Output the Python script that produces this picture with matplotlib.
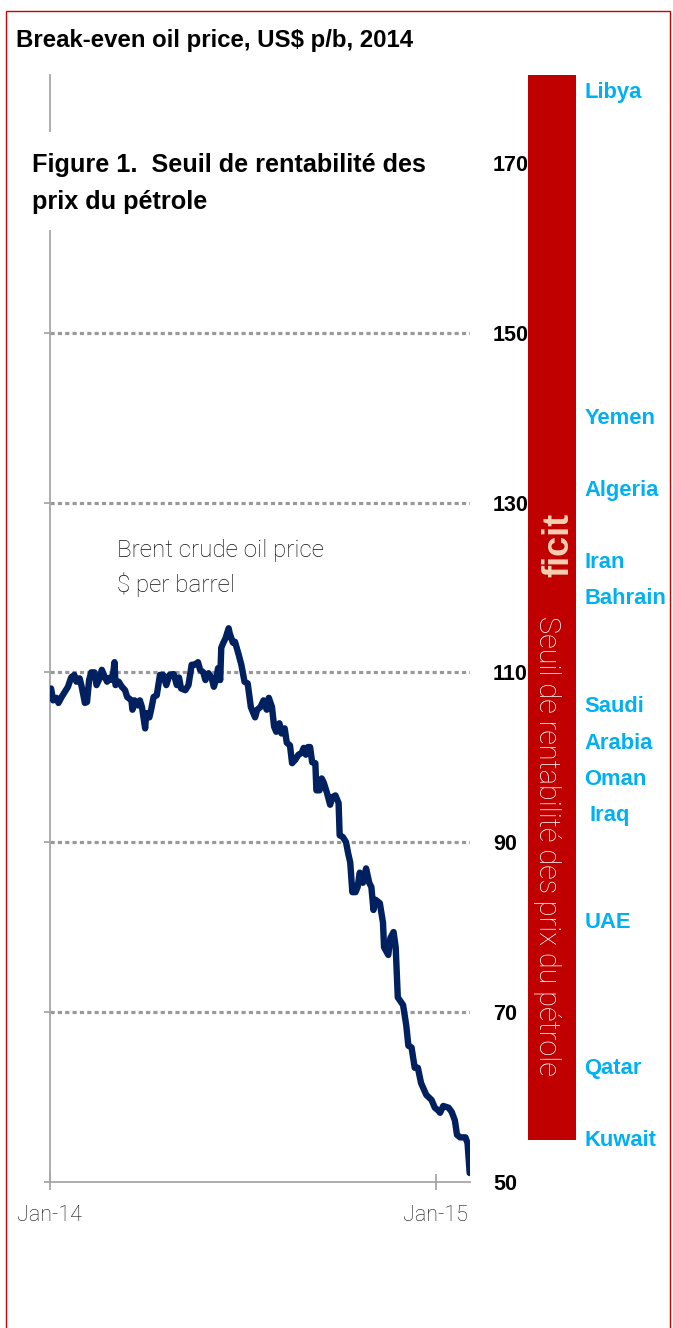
import matplotlib
matplotlib.use("Agg")
import matplotlib.pyplot as plt
from matplotlib.patches import Rectangle
import pandas as pd

BOLD = "Liberation Sans"
LIGHT = "Roboto"

# ---------------- data ----------------
days = [1, 3, 6, 8, 11, 14, 17, 20, 23, 25,
        28, 30, 33, 35, 37, 39, 42, 44, 47, 49,
        51, 54, 57, 59, 61, 62, 65, 68, 71, 73,
        77, 78, 80, 83, 85, 87, 90, 91, 94, 96,
        98, 101, 104, 107, 110, 113, 117, 120, 122, 124,
        128, 131, 134, 137, 140, 142, 145, 147, 150, 153,
        155, 157, 159, 161, 162, 164, 166, 169, 170, 173,
        175, 178, 181, 184, 187, 190, 194, 196, 199, 202,
        205, 207, 210, 212, 214, 217, 219, 222, 224, 227,
        229, 232, 235, 238, 240, 242, 244, 246, 248, 251,
        252, 255, 257, 259, 262, 265, 267, 270, 273, 274,
        277, 280, 282, 284, 286, 289, 291, 293, 296, 299,
        302, 304, 306, 308, 312, 315, 316, 320, 322, 325,
        327, 329, 334, 337, 339, 342, 345, 348, 351, 356,
        361, 364, 367, 369, 372, 377, 380, 383, 385, 388,
        393, 395, 397]
brent = [108.1, 106.7, 107.0, 106.4, 107.1, 107.7, 108.3, 109.4, 109.7, 108.9,
         109.3, 108.3, 106.4, 106.5, 109.1, 110.0, 110.0, 108.5, 109.3, 110.3,
         109.7, 108.9, 109.4, 109.1, 111.2, 108.5, 108.9, 108.3, 107.9, 107.1,
         106.7, 105.6, 106.7, 106.1, 106.7, 105.9, 103.4, 105.2, 104.7, 105.8,
         107.1, 107.3, 109.7, 109.7, 108.5, 109.7, 109.8, 108.5, 109.4, 108.1,
         107.9, 108.5, 110.9, 110.9, 111.2, 110.3, 110.0, 109.1, 109.9, 109.3,
         108.3, 109.1, 110.5, 109.1, 112.9, 113.5, 114.0, 115.2, 114.6, 113.5,
         113.6, 112.3, 110.9, 108.9, 108.7, 105.9, 104.7, 105.6, 105.9, 106.7,
         105.6, 107.0, 105.9, 103.6, 103.0, 104.0, 102.8, 103.4, 101.7, 101.4,
         99.3, 99.7, 100.3, 100.5, 101.1, 100.3, 101.2, 101.2, 99.4, 99.3,
         96.1, 96.1, 97.5, 97.0, 95.8, 94.4, 95.3, 95.5, 94.6, 90.8,
         90.6, 90.0, 88.7, 87.6, 84.1, 84.1, 84.7, 86.4, 85.2, 86.9,
         85.2, 84.7, 82.0, 83.2, 82.8, 80.5, 77.6, 76.7, 78.7, 79.4,
         77.6, 71.7, 70.8, 68.4, 66.0, 65.8, 63.4, 63.4, 61.6, 60.2,
         59.6, 58.7, 58.4, 58.1, 58.9, 58.7, 58.2, 57.2, 55.5, 55.2,
         55.2, 54.5, 51.0]

countries = ["Libya", "Yemen", "Algeria", "Iran", "Bahrain", "Saudi", "Arabia",
             "Oman", " Iraq", "UAE", "Qatar", "Kuwait"]
country_y = [178.6, 140.2, 131.7, 123.2, 119.0, 106.3, 101.9,
             97.7, 93.4, 80.8, 63.6, 55.1]

y_ticks = [50, 70, 90, 110, 130, 150, 170]
grid_levels = [70, 90, 110, 130, 150]
x_tick_dates = ["2014-01-01", "2015-01-01"]
x_tick_labels = ["Jan-14", "Jan-15"]
deficit_low, deficit_high = 54.9, 180.4

title = "Break-even oil price, US$ p/b, 2014"
fig_title_1 = "Figure 1.  Seuil de rentabilité des"
fig_title_2 = "prix du pétrole"
series_label_1 = "Brent crude oil price"
series_label_2 = "$ per barrel"
bar_text_top = "ficit"
bar_text = "Seuil de rentabilité des prix du pétrole"

# ---------------- figure ----------------
W, H = 673, 1328
fig = plt.figure(figsize=(W / 100, H / 100), dpi=100)
fig.patch.set_facecolor("white")

def fx(px):
    return px / W

def fy(py):
    return 1 - py / H

YMIN, YMAX = 50, 180.4
ax = fig.add_axes([fx(50), fy(1181.5), fx(470) - fx(50), fy(75) - fy(1181.5)])
start = pd.Timestamp("2014-01-01")
dates = start + pd.to_timedelta(days, unit="D")
ax.plot(dates, brent, color="#002060", lw=4.6, solid_joinstyle="round",
        solid_capstyle="round", zorder=3)
ax.set_xlim(start, start + pd.Timedelta(days=397.3))
ax.set_ylim(YMIN, YMAX)

for g in grid_levels:
    ax.axhline(g, color="#999999", lw=2.3, linestyle=(0, (1.3, 1.0)), zorder=1)

for s in ["top", "right"]:
    ax.spines[s].set_visible(False)
for s in ["left", "bottom"]:
    ax.spines[s].set_color("#a6a6a6")
    ax.spines[s].set_linewidth(1.3)

ax.set_yticks(y_ticks)
ax.set_yticklabels([str(v) for v in y_ticks])
ax.tick_params(axis="y", left=True, right=False, labelleft=False, labelright=True,
               direction="out", length=4, width=1.3, color="#a6a6a6", pad=12.5)
for lab in ax.get_yticklabels():
    lab.set_fontfamily(BOLD)
    lab.set_fontweight("bold")
    lab.set_fontsize(15.5)
    lab.set_horizontalalignment("left")

ax.set_xticks(pd.to_datetime(x_tick_dates))
ax.set_xticklabels(x_tick_labels)
ax.tick_params(axis="x", direction="inout", length=12, width=1.3, color="#a6a6a6", pad=11)
for lab in ax.get_xticklabels():
    lab.set_fontfamily(LIGHT)
    lab.set_fontweight("light")
    lab.set_fontsize(15.5)
    lab.set_color("#111111")

# deficit bar
axb = fig.add_axes([fx(528), fy(1181.5), fx(576) - fx(528), fy(75) - fy(1181.5)])
axb.bar([0], [deficit_high - deficit_low], bottom=[deficit_low], width=1.0,
        color="#c00000", edgecolor="none")
axb.set_xlim(-0.5, 0.5)
axb.set_ylim(YMIN, YMAX)
axb.axis("off")

# country labels
for name, v in zip(countries, country_y):
    axb.text(1.17 if not name.startswith(" ") else 1.29, v, name.strip(),
             transform=axb.get_yaxis_transform(),
             ha="left", va="center_baseline", color="#00b0f0", fontsize=15.8,
             fontweight="bold", family=BOLD, clip_on=False)

# text inside bar
fig.text(fx(559), fy(545), bar_text_top, rotation=90, ha="center", va="center",
         color="#f8cfb4", fontsize=26, fontweight="bold", family=BOLD)
fig.text(fx(547), fy(846), bar_text, rotation=270, ha="center", va="center",
         color="white", fontsize=20.8, fontweight="light", family=LIGHT)

# white box over the spine behind the figure title
fig.patches.append(Rectangle((fx(28), fy(230)), fx(445) - fx(28), fy(132) - fy(230),
                             transform=fig.transFigure, facecolor="white",
                             edgecolor="none", zorder=2))

fig.text(fx(16), fy(47), title, ha="left", va="baseline", fontsize=17.3,
         fontweight="bold", family=BOLD, color="black", zorder=4)
fig.text(fx(32), fy(172), fig_title_1, ha="left", va="baseline", fontsize=18.2,
         fontweight="bold", family=BOLD, color="black", zorder=4)
fig.text(fx(32), fy(209), fig_title_2, ha="left", va="baseline", fontsize=18.2,
         fontweight="bold", family=BOLD, color="black", zorder=4)

fig.text(fx(117), fy(557), series_label_1, ha="left", va="baseline", fontsize=17.5,
         fontweight="light", family=LIGHT, color="#111111")
fig.text(fx(117), fy(592), series_label_2, ha="left", va="baseline", fontsize=17.5,
         fontweight="light", family=LIGHT, color="#111111")

# red outer border
fig.patches.append(Rectangle((fx(5.5), fy(1340)), fx(670) - fx(5.5), fy(11) - fy(1340),
                             transform=fig.transFigure, facecolor="none",
                             edgecolor="#d00000", lw=1.0, zorder=5))

fig.savefig("out.png", dpi=100)
